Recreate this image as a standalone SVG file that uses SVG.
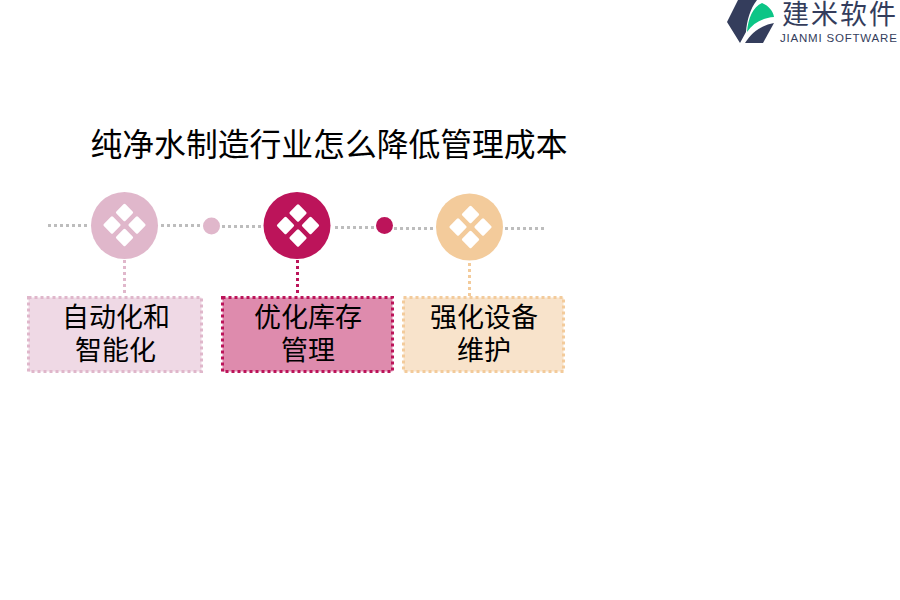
<svg xmlns="http://www.w3.org/2000/svg" width="900" height="600" viewBox="0 0 900 600">
<style>
text{font-family:"Liberation Serif","Noto Sans CJK SC",serif;fill:#000}
.t{font-size:31.800px}
.l{font-size:27px;text-anchor:middle}
.c{fill:none;stroke-width:3;stroke-dasharray:3 3}
.b{stroke-width:3;stroke-dasharray:3 3}
.g{stroke:#bdbdbd}
.d{fill:#fff}
</style>
<defs>
<g id="dia"><rect x="-6.500" y="-6.500" width="13" height="13" rx="1.500" transform="translate(0,-12.500) rotate(45)" class="d"/><rect x="-6.500" y="-6.500" width="13" height="13" rx="1.500" transform="translate(-12.500,0) rotate(45)" class="d"/><rect x="-6.500" y="-6.500" width="13" height="13" rx="1.500" transform="translate(12.500,0) rotate(45)" class="d"/><rect x="-6.500" y="-6.500" width="13" height="13" rx="1.500" transform="translate(0,12.500) rotate(45)" class="d"/></g>
</defs>
<rect width="900" height="600" fill="#fff"/>
<g id="logo">
<path d="M738 0H757C750 9 747 20 746 32L740 43L727 22Z" fill="#343d5c"/>
<path d="M747 32C748 18 753 7 762 3C769 6 773 11 774 17C762 18 753 23 747 32Z" fill="#0cc586"/>
<path d="M745 43C752 32 762 25 774 23L763 43Z" fill="#343d5c"/>
<text x="782" y="24" style="font-family:'Noto Sans CJK SC',sans-serif;font-size:27px;letter-spacing:2px;fill:#343d5c">建米软件</text>
<text x="780" y="42" style="font-family:'Liberation Sans',sans-serif;font-size:11.500px;letter-spacing:.8px;fill:#343d5c">JIANMI SOFTWARE</text>
</g>
<text id="title" class="t" x="90.500" y="156">纯净水制造行业怎么降低管理成本</text>
<g id="connectors">
<path class="c g" d="M48 225.500H88M161 225.500H201M222 226.500H262M335 227.500H376M394 228.500H433M505 228.500H545"/>
<path class="c" stroke="#e0b7cb" d="M124.500 260V296"/>
<path class="c" stroke="#bc145a" d="M297.500 260V296"/>
<path class="c" stroke="#f3cb9b" d="M469.500 263V296"/>
</g>
<g id="node1">
<circle cx="124.500" cy="225.500" r="33.500" fill="#e0b7cb"/><use href="#dia" x="124.500" y="225"/>
<rect class="b" x="28.500" y="297.500" width="173" height="74" fill="#efd9e5" stroke="#e0b7cb"/>
<text class="l" x="116" y="327">自动化和</text><text class="l" x="115.500" y="360">智能化</text>
</g>
<g id="dot1"><circle cx="211.500" cy="226" r="8.500" fill="#e0b7cb"/></g>
<g id="node2">
<circle cx="297" cy="225.500" r="33.500" fill="#bc145a"/><use href="#dia" x="298" y="225.500"/>
<rect class="b" x="222.500" y="297.500" width="170" height="74" fill="#de8bad" stroke="#bc145a"/>
<text class="l" x="308" y="327">优化库存</text><text class="l" x="308" y="360">管理</text>
</g>
<g id="dot2"><circle cx="384.500" cy="225.500" r="8.500" fill="#bc145a"/></g>
<g id="node3">
<circle cx="469.500" cy="227" r="33.500" fill="#f3cb9b"/><use href="#dia" x="470.500" y="227"/>
<rect class="b" x="403.500" y="297.500" width="160" height="74" fill="#f8e3cb" stroke="#f3cb9b"/>
<text class="l" x="484" y="327">强化设备</text><text class="l" x="484" y="360">维护</text>
</g>
</svg>
